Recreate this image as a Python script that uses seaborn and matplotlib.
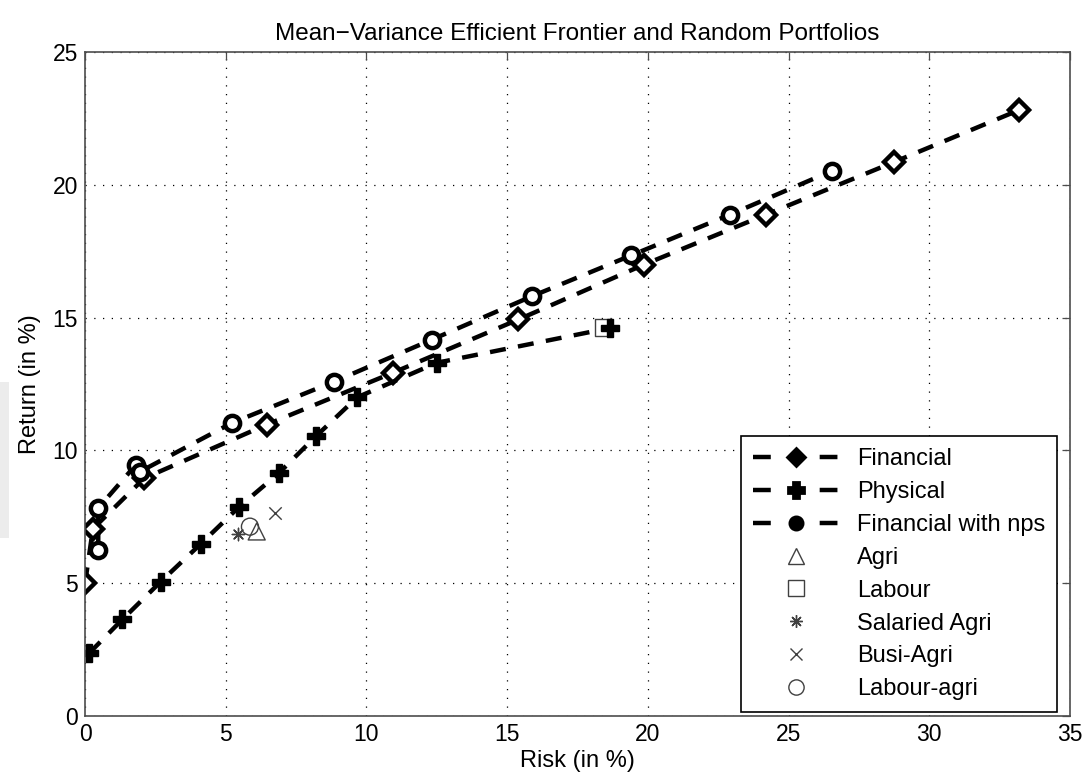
import matplotlib
matplotlib.use("Agg")
import matplotlib.pyplot as plt
from matplotlib.patches import Rectangle
import seaborn as sns
import pandas as pd

# Efficient frontier series (risk %, return %)
fin_risk = [0.0, 0.28, 2.1, 6.45, 10.95, 15.4, 19.87, 24.2, 28.75, 33.2]
fin_ret = [5.0, 7.05, 8.95, 10.97, 12.93, 14.93, 17.0, 18.88, 20.86, 22.82]

phys_risk = [0.14, 1.33, 2.69, 4.11, 5.47, 6.89, 8.2, 9.67, 12.5, 18.66]
phys_ret = [2.36, 3.64, 5.06, 6.48, 7.87, 9.15, 10.53, 12.0, 13.3, 14.61]

nps_risk = [0.47, 0.47, 1.8, 1.95, 5.21, 8.85, 12.32, 15.87, 19.4, 22.92, 26.53]
nps_ret = [6.26, 7.83, 9.45, 9.2, 11.03, 12.59, 14.17, 15.8, 17.34, 18.88, 20.52]

# Individual household portfolios
groups = ["Agri", "Labour", "Salaried Agri", "Busi-Agri", "Labour-agri"]
group_risk = [6.1, 18.44, 5.45, 6.75, 5.86]
group_ret = [6.95, 14.64, 6.86, 7.64, 7.13]
group_markers = ["^", "s", (8, 2, 0), "x", "o"]

sns.set_theme(style="white")
plt.rcParams["font.family"] = ["Liberation Sans", "DejaVu Sans"]
plt.rcParams["text.color"] = "black"
plt.rcParams["axes.labelcolor"] = "black"
plt.rcParams["xtick.color"] = "black"
plt.rcParams["ytick.color"] = "black"

fig = plt.figure(figsize=(10.86, 7.8), dpi=100)
ax = fig.add_axes([0.0783, 0.082, 0.9070, 0.8513])

line_kw = dict(color="black", linewidth=3.2, estimator=None, sort=False,
               markerfacecolor="white", markeredgecolor="black",
               markeredgewidth=3.2)

frontiers = [
    ("Financial", fin_risk, fin_ret, "D", 10.5),
    ("Physical", phys_risk, phys_ret, "P", 13),
    ("Financial with nps", nps_risk, nps_ret, "o", 11),
]
handles = []
for name, xs, ys, mk, ms in frontiers:
    df = pd.DataFrame({"risk": xs, "ret": ys})
    kw = dict(line_kw, markersize=ms)
    if mk == "P":
        kw.update(markerfacecolor="black", markeredgewidth=1.0)
    sns.lineplot(data=df, x="risk", y="ret", marker=mk, ax=ax, **kw)
    ln = ax.lines[-1]
    ln.set_dashes((3.6, 2.8))
    # legend entry: dash, marker, dash
    h, = ax.plot([], [], color="black", linewidth=3.2, marker=mk,
                 markersize=ms - 1.5, markerfacecolor="black",
                 markeredgecolor="black", markeredgewidth=2.0, label=name)
    h.set_dashes((4.0, 11.0))
    handles.append(h)

for name, xs, ys, mk in zip(groups, group_risk, group_ret, group_markers):
    df = pd.DataFrame({"risk": [xs], "ret": [ys]})
    if mk in ("x",) or isinstance(mk, tuple):
        sns.scatterplot(data=df, x="risk", y="ret", marker=mk, s=80,
                        color="0.25", linewidth=1.0, ax=ax)
    else:
        sns.scatterplot(data=df, x="risk", y="ret", marker=mk, s=150,
                        facecolor="none", edgecolor="0.25", linewidth=1.0, ax=ax)
    big = mk in ("^", "s", "o")
    h, = ax.plot([], [], linestyle="none", marker=mk, markersize=11 if big else 9,
                 markerfacecolor="none", markeredgecolor="0.25",
                 markeredgewidth=1.0, label=name)
    handles.append(h)

ax.set_xlim(0, 35)
ax.set_ylim(0, 25)
ax.set_xticks(range(0, 36, 5))
ax.set_yticks(range(0, 26, 5))
ax.grid(True, color="black", linestyle=(0, (1, 6)), linewidth=0.9)
for s in ax.spines.values():
    s.set_visible(True)
    s.set_color("0.3")
    s.set_linewidth(1.2)
ax.tick_params(direction="in", length=6, width=0.9, color="0.3",
               top=True, right=True, labelsize=16.5, pad=5)

ax.set_title("Mean\u2212Variance Efficient Frontier and Random Portfolios",
             fontsize=17.5, pad=9)
ax.set_xlabel("Risk (in %)", fontsize=17, labelpad=3)
ax.set_ylabel("Return (in %)", fontsize=17, labelpad=8)

leg = ax.legend(handles=handles, loc="lower right", fontsize=17, frameon=True,
                fancybox=False, edgecolor="black", handlelength=3.6,
                handletextpad=0.8, numpoints=1, borderpad=0.5,
                labelspacing=0.46, borderaxespad=0,
                bbox_to_anchor=(0.987, 0.006))
leg.get_frame().set_linewidth(1.2)
leg.get_frame().set_alpha(1.0)

# faint grey band along the left edge of the canvas
fig.patches.append(Rectangle((0, 0.31), 0.008, 0.2, transform=fig.transFigure,
                             facecolor="#ececec", edgecolor="none"))

fig.savefig("out.png", dpi=100)
